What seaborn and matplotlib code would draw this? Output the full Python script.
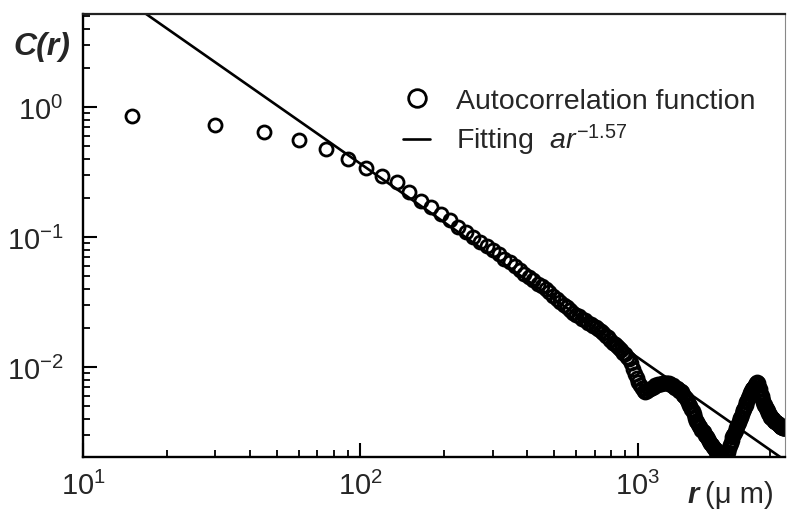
import numpy as np
import pandas as pd
import matplotlib
matplotlib.use("Agg")
import matplotlib.pyplot as plt
import seaborn as sns

# ---- data ----
r_step_um = 15.0  # sampling interval of the autocorrelation (μm)
log_c = [
    -0.07, -0.14, -0.19, -0.255, -0.32, -0.40, -0.47, -0.53, -0.58, -0.65,
    -0.72, -0.77, -0.82, -0.87, -0.92, -0.96, -1.00, -1.04, -1.07, -1.10,
    -1.13, -1.17, -1.19, -1.22, -1.25, -1.28, -1.31, -1.33, -1.36, -1.375,
    -1.40, -1.425, -1.45, -1.475, -1.495, -1.52, -1.54, -1.56, -1.58, -1.60,
    -1.61, -1.63, -1.64, -1.66, -1.67, -1.68, -1.69, -1.71, -1.72, -1.74,
    -1.76, -1.77, -1.79, -1.81, -1.82, -1.84, -1.85, -1.87, -1.89, -1.90,
    -1.92, -1.94, -1.97, -2.01, -2.05, -2.08, -2.11, -2.14, -2.16, -2.18,
    -2.19, -2.18, -2.17, -2.17, -2.16, -2.15, -2.14, -2.14, -2.13, -2.13,
    -2.13, -2.12, -2.12, -2.12, -2.12, -2.12, -2.13, -2.14, -2.14, -2.15,
    -2.16, -2.16, -2.17, -2.18, -2.18, -2.19, -2.21, -2.22, -2.24, -2.25,
    -2.27, -2.29, -2.30, -2.32, -2.34, -2.36, -2.39, -2.41, -2.42, -2.44,
    -2.45, -2.46, -2.48, -2.49, -2.50, -2.52, -2.53, -2.54, -2.55, -2.57,
    -2.58, -2.59, -2.60, -2.61, -2.62, -2.63, -2.64, -2.65, -2.66, -2.67,
    -2.68, -2.69, -2.69, -2.70, -2.70, -2.71, -2.72, -2.71, -2.69, -2.67,
    -2.65, -2.62, -2.60, -2.58, -2.56, -2.54, -2.52, -2.51, -2.50, -2.48,
    -2.47, -2.45, -2.44, -2.42, -2.40, -2.39, -2.38, -2.36, -2.34, -2.33,
    -2.32, -2.30, -2.29, -2.27, -2.26, -2.24, -2.23, -2.22, -2.20, -2.19,
    -2.18, -2.17, -2.16, -2.16, -2.15, -2.14, -2.13, -2.12, -2.11, -2.12,
    -2.14, -2.16, -2.17, -2.19, -2.21, -2.22, -2.24, -2.26, -2.27, -2.29,
    -2.29, -2.30, -2.31, -2.32, -2.33, -2.34, -2.35, -2.36, -2.37, -2.38,
    -2.38, -2.39, -2.39, -2.40, -2.40, -2.41, -2.41, -2.42, -2.42, -2.42,
    -2.43, -2.43, -2.44, -2.44, -2.44, -2.45, -2.45, -2.46, -2.46, -2.46,
    -2.46, -2.47, -2.47, -2.47, -2.47, -2.47,
]
r_um = r_step_um * np.arange(1, len(log_c) + 1)
c_r = 10.0 ** np.array(log_c)

# power-law fit as drawn in the reference
fit_a = 350.0
fit_b = -1.49
fit_label = "Fitting  $\\mathit{ar}^{\\mathit{-1.57}}$"
data_label = "Autocorrelation function"

x_limits = (10.0, 3390.0)
y_limits = (10 ** -2.69, 10 ** 0.715)

# ---- style ----
sns.set_theme(style="ticks")
plt.rcParams["font.family"] = ["Liberation Sans", "DejaVu Sans"]
plt.rcParams["mathtext.fontset"] = "custom"
plt.rcParams["mathtext.rm"] = "Liberation Sans"
plt.rcParams["mathtext.it"] = "Liberation Sans:italic"
plt.rcParams["mathtext.bf"] = "Liberation Sans:bold"

fig = plt.figure(figsize=(7.87, 5.10), dpi=100)
ax = fig.add_axes([83 / 787, 52 / 510, 702 / 787, 443 / 510])

df = pd.DataFrame({"r": r_um, "C": c_r})
sns.lineplot(data=df, x="r", y="C", ax=ax, linestyle="none", marker="o",
             markersize=9.4, markerfacecolor="none", markeredgecolor="black",
             markeredgewidth=2.0, label=data_label, sort=False)

fit_r = np.geomspace(x_limits[0], x_limits[1], 50)
fit_df = pd.DataFrame({"r": fit_r, "C": fit_a * fit_r ** fit_b})
sns.lineplot(data=fit_df, x="r", y="C", ax=ax, color="black", linewidth=1.9,
             label=fit_label, sort=False)

ax.set_xscale("log")
ax.set_yscale("log")
ax.set_xlim(*x_limits)
ax.set_ylim(*y_limits)
ax.set_xlabel("")
ax.set_ylabel("")

for side in ["left", "bottom"]:
    ax.spines[side].set_linewidth(1.7)
    ax.spines[side].set_color("black")
ax.spines["top"].set_linewidth(1.6)
ax.spines["top"].set_color("#222222")
ax.spines["right"].set_linewidth(0.8)
ax.spines["right"].set_color("#888888")

ax.tick_params(axis="both", which="major", direction="in", length=10,
               width=1.5, labelsize=21, color="black")
ax.tick_params(axis="both", which="minor", direction="in", length=5,
               width=1.3, color="black")
ax.tick_params(axis="y", which="major", pad=14)
ax.tick_params(axis="x", which="major", pad=10)
ax.tick_params(top=False, right=False, which="both")

leg = ax.legend(loc="center left", bbox_to_anchor=(0.456, 0.755),
                frameon=False, fontsize=20.5, borderpad=0, borderaxespad=0,
                handlelength=0.95, handletextpad=0.9, labelspacing=0.3,
                markerscale=1.35)

fig.text(13 / 787, 1 - 47 / 510, "C(r)", fontsize=23, fontweight="bold",
         fontstyle="italic", va="center", ha="left")
fig.text(688 / 787, 1 - 495 / 510, "r", fontsize=21, fontweight="bold",
         fontstyle="italic", va="center", ha="left")
fig.text(705 / 787, 1 - 495 / 510, "(\u03bc m)", fontsize=21,
         va="center", ha="left")

fig.savefig("out.png", dpi=100)
